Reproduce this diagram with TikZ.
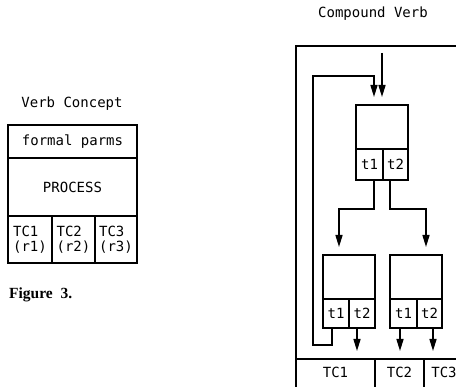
\documentclass[tikz,border=0pt]{standalone}
\usepackage{fontspec}
\setmainfont{Liberation Serif}
\newfontfamily\monof{DejaVu Sans Mono}
\usetikzlibrary{arrows.meta}
\tikzset{
  lbl/.style={font=\monof\fontsize{14}{15}\selectfont, inner sep=0pt},
  boxln/.style={line width=1.8pt},
  cell/.style={draw, boxln, inner sep=0pt, outer sep=0pt, anchor=north west,
    font=\monof\fontsize{14}{15}\selectfont, align=left},
  bare/.style={inner sep=0pt, outer sep=0pt, anchor=north west,
    font=\monof\fontsize{14}{15}\selectfont},
  conn/.style={line width=1.5pt},
  arr/.style={conn, -{Triangle[length=12pt,width=7pt]}},
}
\begin{document}
\begin{tikzpicture}[x=1pt,y=-1pt]
\useasboundingbox (0,0) rectangle (456,387);
\clip (0,0) rectangle (456,387);

% ---------- Verb Concept ----------
\node[lbl] (vctitle) at (72,104) {Verb Concept};
\node[cell, minimum width=129pt, minimum height=33pt] (fp) at (8,125) {formal parms};
\node[cell, minimum width=129pt, minimum height=58pt] (proc) at (8,158) {PROCESS};
\node[cell, minimum width=44pt, minimum height=47pt] (vtc1) at (8,216) {TC1\\(r1)};
\node[cell, minimum width=43pt, minimum height=47pt] (vtc2) at (52,216) {TC2\\(r2)};
\node[cell, minimum width=42pt, minimum height=47pt] (vtc3) at (95,216) {TC3\\(r3)};

\node[font=\fontsize{15.5}{18}\selectfont\bfseries, anchor=west, inner sep=0pt] (cap) at (9,295) {Figure\ \ 3.};

% ---------- Compound Verb ----------
\node[lbl] (cvtitle) at (373,14) {Compound Verb};
\node[draw, boxln, inner sep=0pt, outer sep=0pt, anchor=north west,
      minimum width=190pt, minimum height=370pt] (outer) at (296,46) {};

% bottom TC row
\node[bare, minimum width=79pt, minimum height=27pt] (ctc1) at (296,359) {TC1};
\node[bare, minimum width=49pt, minimum height=27pt] (ctc2) at (375,359) {TC2};
\node[bare, minimum width=40pt, minimum height=27pt] (ctc3) at (424,359) {TC3};
\draw[boxln] (ctc1.north west) -- (ctc3.north east) -- ++(40,0);
\draw[boxln] (ctc1.north east) -- ++(0,40);
\draw[boxln] (ctc2.north east) -- ++(0,40);

% top box
\node[draw, boxln, inner sep=0pt, outer sep=0pt, anchor=north west,
      minimum width=52pt, minimum height=75pt] (top) at (356,105) {};
\node[cell, minimum width=27pt, minimum height=31pt] (top1) at (356,149) {t1};
\node[cell, minimum width=25pt, minimum height=31pt] (top2) at (383,149) {t2};

% bottom-left box
\node[draw, boxln, inner sep=0pt, outer sep=0pt, anchor=north west,
      minimum width=52pt, minimum height=73pt] (bl) at (323,255) {};
\node[cell, minimum width=26pt, minimum height=29pt] (bl1) at (323,299) {t1};
\node[cell, minimum width=26pt, minimum height=29pt] (bl2) at (349,299) {t2};

% bottom-right box
\node[draw, boxln, inner sep=0pt, outer sep=0pt, anchor=north west,
      minimum width=52pt, minimum height=73pt] (br) at (390,255) {};
\node[cell, minimum width=27pt, minimum height=29pt] (br1) at (390,299) {t1};
\node[cell, minimum width=25pt, minimum height=29pt] (br2) at (417,299) {t2};

% connectors
\coordinate (in) at (382,53);
\draw[arr, shorten >=8pt] (in) -- (in |- top.north);

\coordinate (lpA) at (313,345);
\coordinate (lpB) at (313,76);
\draw[arr, shorten >=8pt] ([xshift=-4pt]bl1.south) |- (lpA) -- (lpB) -| ([xshift=-8pt]top.north);

\draw[arr, shorten >=8pt] ([xshift=4.5pt]top1.south) -- ++(0,29) -| ([xshift=-10pt]bl.north);
\draw[arr, shorten >=8pt] ([xshift=-5.5pt]top2.south) -- ++(0,29) -| ([xshift=10pt]br.north);

\coordinate (o1) at ([xshift=-5pt]bl2.south);
\coordinate (o2) at ([xshift=-3.5pt]br1.south);
\coordinate (o3) at ([xshift=3.5pt]br2.south);
\draw[arr, shorten >=8pt] (o1) -- (o1 |- ctc1.north);
\draw[arr, shorten >=8pt] (o2) -- (o2 |- ctc2.north);
\draw[arr, shorten >=8pt] (o3) -- (o3 |- ctc3.north);
\end{tikzpicture}
\end{document}
